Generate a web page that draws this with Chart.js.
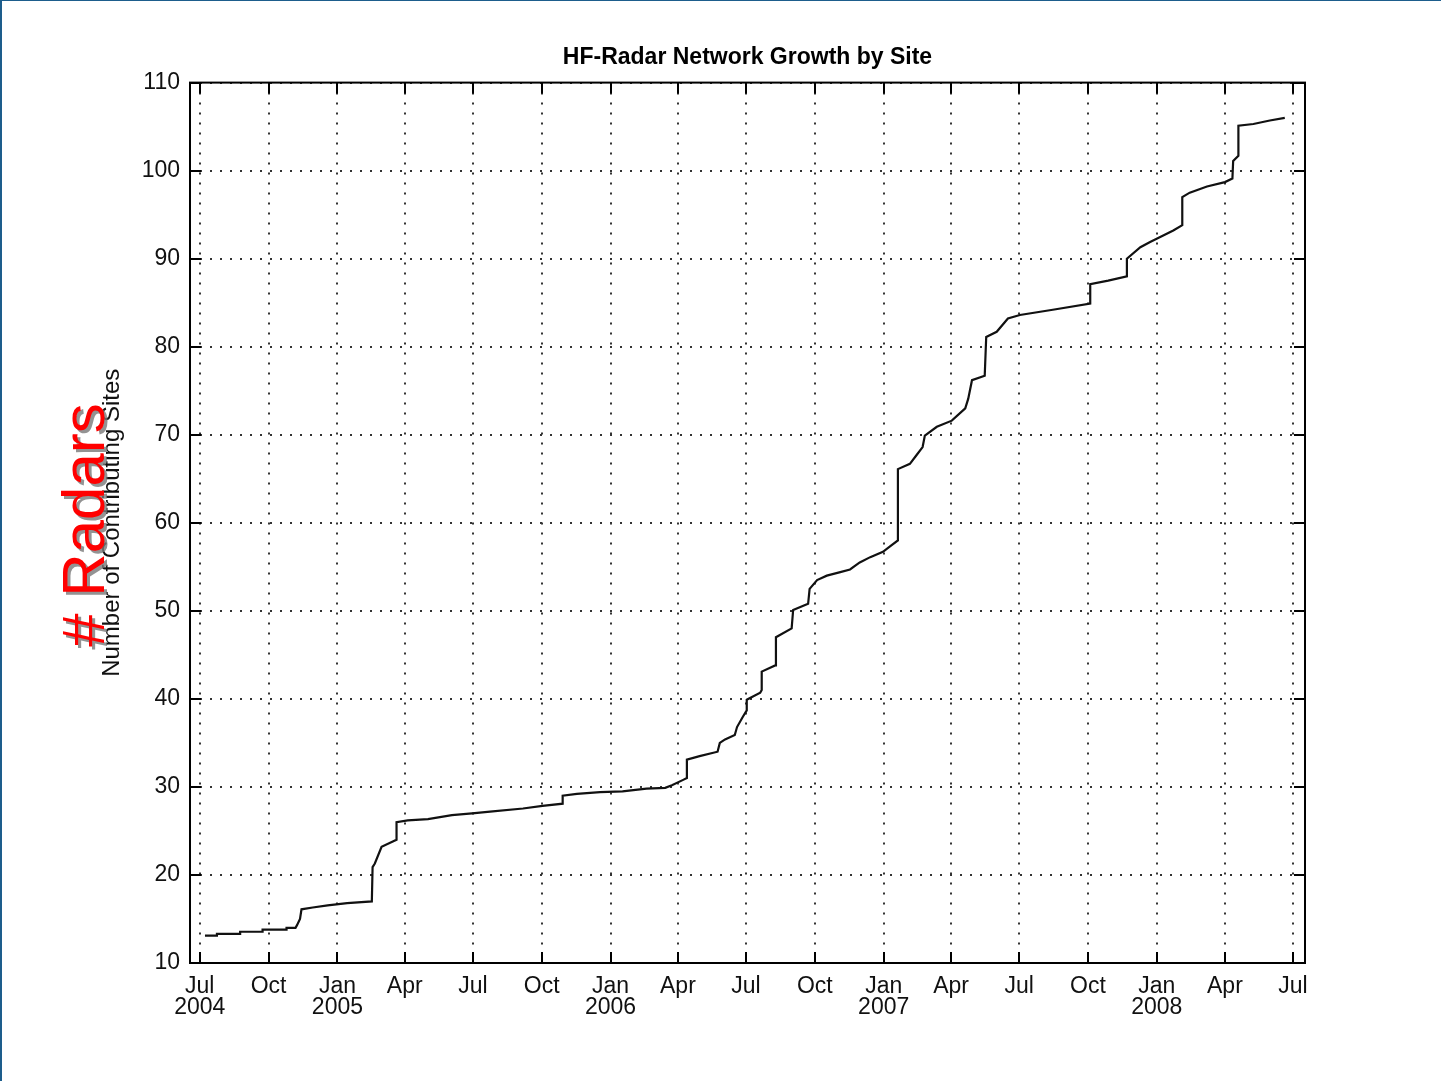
<!DOCTYPE html>
<html>
<head>
<meta charset="utf-8">
<title>HF-Radar Network Growth by Site</title>
<script src="https://cdn.jsdelivr.net/npm/chart.js@4"></script>
<style>
  html, body { margin: 0; padding: 0; background: #fff; }
  #wrap { position: relative; width: 1441px; height: 1081px; overflow: hidden; }
  #wrap canvas { position: absolute; left: 0; top: 0; }
  #frame {
    position: absolute; left: 0; top: 0; width: 1441px; height: 1081px;
    box-sizing: border-box; border-left: 2px solid #1d5d8c; border-top: 1px solid #1d5d8c;
    pointer-events: none;
  }
</style>
</head>
<body>
<div id="wrap">
  <canvas id="growthChart" width="1441" height="1081"></canvas>
  <div id="frame"></div>
</div>
<script>
// x values are days counted from 1 Jul 2004, y = number of contributing sites
const days = [7, 23, 23, 54, 54, 84, 84, 116, 116, 128, 130, 134, 136, 151, 171, 197, 230, 231, 234, 243,
  258, 263, 263, 278, 305, 337, 364, 388, 432, 458, 485, 485, 504, 535, 565, 597, 622, 631, 646, 651,
  651, 668, 692, 695, 702, 715, 718, 726, 731, 731, 749, 751, 751, 769, 770, 791, 793, 813, 815, 825,
  838, 856, 869, 882, 896, 913, 922, 933, 933, 949, 958, 966, 969, 985, 1005, 1023, 1027, 1032, 1049, 1051,
  1065, 1080, 1096, 1140, 1190, 1190, 1214, 1239, 1239, 1257, 1270, 1301, 1313, 1313, 1323, 1346, 1370, 1380,
  1381, 1388, 1388, 1408, 1430, 1450];
const sites = [13.1, 13.1, 13.3, 13.3, 13.55, 13.55, 13.8, 13.8, 14.0, 14.0, 14.3, 15.0, 16.1, 16.3, 16.55, 16.8, 17.0, 20.9, 21.3, 23.2,
  23.8, 24.0, 26.0, 26.2, 26.35, 26.8, 27.0, 27.2, 27.55, 27.85, 28.1, 29.0, 29.2, 29.4, 29.5, 29.8, 29.9, 30.2, 30.8, 31.0,
  33.1, 33.5, 34.0, 35.0, 35.4, 35.9, 36.8, 38.0, 38.7, 39.9, 40.7, 41.0, 43.1, 43.8, 47.0, 48.0, 50.1, 50.8, 52.5, 53.5,
  54.0, 54.4, 54.7, 55.5, 56.1, 56.7, 57.3, 58.0, 66.1, 66.7, 67.7, 68.6, 69.9, 70.9, 71.6, 73.0, 74.1, 76.2, 76.7, 81.1,
  81.7, 83.2, 83.6, 84.2, 84.9, 87.1, 87.5, 88.0, 90.0, 91.3, 91.9, 93.2, 93.8, 97.0, 97.5, 98.2, 98.7, 99.1,
  101.1, 101.7, 105.1, 105.3, 105.7, 106.0];

// quarter ticks
const tickDays = [0, 92, 184, 274, 365, 457, 549, 639, 730, 822, 914, 1004, 1095, 1187, 1279, 1370, 1461];
const tickMonths = ['Jul', 'Oct', 'Jan', 'Apr', 'Jul', 'Oct', 'Jan', 'Apr', 'Jul', 'Oct', 'Jan', 'Apr', 'Jul', 'Oct', 'Jan', 'Apr', 'Jul'];
const tickYears = ['2004', '', '2005', '', '', '', '2006', '', '', '', '2007', '', '', '', '2008', '', ''];

const tickFont = { family: '"Liberation Sans", Arial, sans-serif', size: 23 };

// inward tick marks and solid box, matlab style
const matlabBox = {
    id: 'matlabBox',
    afterDatasetsDraw(chart) {
        const { ctx, chartArea: { left, right, top, bottom }, scales: { x, y } } = chart;
        ctx.save();
        ctx.strokeStyle = '#000';
        ctx.lineWidth = 2;
        ctx.beginPath();
        x.ticks.forEach(t => {
            const px = Math.round(x.getPixelForValue(t.value));
            ctx.moveTo(px, bottom); ctx.lineTo(px, bottom - 11);
            ctx.moveTo(px, top); ctx.lineTo(px, top + 11);
        });
        y.ticks.forEach(t => {
            const py = Math.round(y.getPixelForValue(t.value));
            ctx.moveTo(left, py); ctx.lineTo(left + 11, py);
            ctx.moveTo(right, py); ctx.lineTo(right - 11, py);
        });
        ctx.stroke();
        ctx.strokeRect(left, top, right - left, bottom - top);
        ctx.restore();
    }
};

// big red overlay label
const radarLabel = {
    id: 'radarLabel',
    afterDraw(chart) {
        const { ctx } = chart;
        ctx.save();
        ctx.translate(104, 525);
        ctx.rotate(-Math.PI / 2);
        ctx.font = '60px "Liberation Sans", Arial, sans-serif';
        ctx.textAlign = 'center';
        ctx.textBaseline = 'alphabetic';
        ctx.shadowColor = 'rgba(120,120,120,0.8)';
        ctx.shadowOffsetX = 3;
        ctx.shadowOffsetY = 3;
        ctx.fillStyle = '#ff0000';
        ctx.fillText('# Radars', 0, 0);
        ctx.restore();
    }
};

const ctx = document.getElementById('growthChart').getContext('2d');
const growthChart = new Chart(ctx, {
    type: 'line',
    data: {
        datasets: [{
            label: 'Contributing Sites',
            data: days.map((d, i) => ({ x: d, y: sites[i] })),
            borderColor: '#111',
            borderWidth: 2.2,
            pointRadius: 0,
            tension: 0,
            fill: false
        }]
    },
    options: {
        responsive: false,
        animation: false,
        layout: { padding: { left: 0, right: 136, top: 0, bottom: 0 } },
        plugins: {
            legend: { display: false },
            tooltip: { enabled: false },
            title: {
                display: true,
                text: 'HF-Radar Network Growth by Site',
                fullSize: false,
                color: '#000',
                font: { family: '"Liberation Sans", Arial, sans-serif', size: 23, weight: 'bold' },
                padding: { top: 44, bottom: 11 }
            }
        },
        scales: {
            x: {
                type: 'linear',
                min: -13,
                max: 1477,
                afterFit(scale) { scale.height = 118; },
                afterBuildTicks(scale) { scale.ticks = tickDays.map(v => ({ value: v })); },
                grid: { color: '#333', lineWidth: 2, drawTicks: false },
                border: { display: false, dash: [2, 8] },
                ticks: {
                    autoSkip: false,
                    maxRotation: 0,
                    padding: 13,
                    color: '#111',
                    font: { ...tickFont, lineHeight: 0.92 },
                    callback(value, index) {
                        return tickYears[index] ? [tickMonths[index], tickYears[index]] : tickMonths[index];
                    }
                }
            },
            y: {
                min: 10,
                max: 110,
                afterFit(scale) { scale.width = 190; },
                grid: { color: '#333', lineWidth: 2, drawTicks: false },
                border: { display: false, dash: [2, 8] },
                ticks: { stepSize: 10, padding: 10, color: '#111', font: tickFont },
                title: {
                    display: true,
                    text: 'Number of Contributing Sites',
                    color: '#111',
                    font: { family: '"Liberation Sans", Arial, sans-serif', size: 24 },
                    padding: { top: 98, bottom: 0 }
                }
            }
        }
    },
    plugins: [matlabBox, radarLabel]
});
</script>
</body>
</html>
